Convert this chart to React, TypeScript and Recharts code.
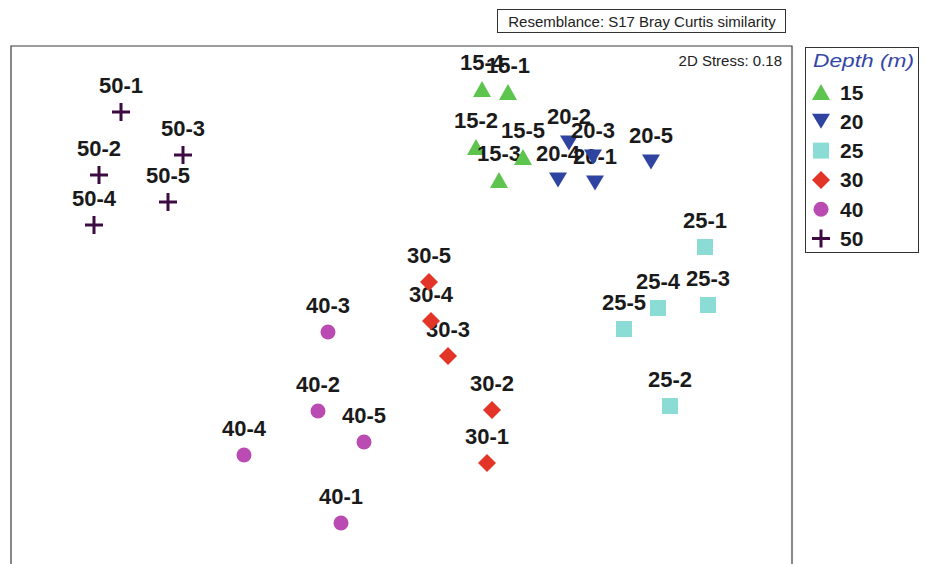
import { Legend, ReferenceArea, Scatter, ScatterChart, XAxis, YAxis } from "recharts";

// nMDS ordination, coordinates (arbitrary units, y up)
const depth15 = [
  { id: "15-1", x: 497, y: 488 },
  { id: "15-2", x: 465, y: 433 },
  { id: "15-3", x: 488, y: 400 },
  { id: "15-4", x: 471, y: 491 },
  { id: "15-5", x: 512, y: 423 },
];
const depth20 = [
  { id: "20-1", x: 584, y: 397 },
  { id: "20-2", x: 558, y: 437 },
  { id: "20-3", x: 582, y: 423 },
  { id: "20-4", x: 547, y: 400 },
  { id: "20-5", x: 640, y: 418 },
];
const depth25 = [
  { id: "25-1", x: 694, y: 333 },
  { id: "25-2", x: 659, y: 174 },
  { id: "25-3", x: 697, y: 275 },
  { id: "25-4", x: 647, y: 272 },
  { id: "25-5", x: 613, y: 251 },
];
const depth30 = [
  { id: "30-1", x: 476, y: 117 },
  { id: "30-2", x: 481, y: 170 },
  { id: "30-3", x: 437, y: 224 },
  { id: "30-4", x: 420, y: 259 },
  { id: "30-5", x: 418, y: 298 },
];
const depth40 = [
  { id: "40-1", x: 330, y: 57 },
  { id: "40-2", x: 307, y: 169 },
  { id: "40-3", x: 317, y: 248 },
  { id: "40-4", x: 233, y: 125 },
  { id: "40-5", x: 353, y: 138 },
];
const depth50 = [
  { id: "50-1", x: 110, y: 468 },
  { id: "50-2", x: 88, y: 405 },
  { id: "50-3", x: 172, y: 425 },
  { id: "50-4", x: 83, y: 355 },
  { id: "50-5", x: 157, y: 378 },
];

const xDomain = [0, 781];
const yDomain = [0, 534];

type Kind = "up" | "down" | "square" | "diamond" | "circle" | "plus";

const series: { name: string; kind: Kind; color: string; data: typeof depth15 }[] = [
  { name: "15", kind: "up", color: "#5dc54d", data: depth15 },
  { name: "20", kind: "down", color: "#2e44a0", data: depth20 },
  { name: "25", kind: "square", color: "#8cdcd6", data: depth25 },
  { name: "30", kind: "diamond", color: "#e23527", data: depth30 },
  { name: "40", kind: "circle", color: "#b94bb3", data: depth40 },
  { name: "50", kind: "plus", color: "#3c0b42", data: depth50 },
];

const FONT = '"Liberation Sans", Arial, Helvetica, sans-serif';

function Marker({ kind, cx, cy, color }: { kind: Kind; cx: number; cy: number; color: string }) {
  switch (kind) {
    case "up":
      return <polygon points={`${cx},${cy - 8} ${cx + 9},${cy + 8} ${cx - 9},${cy + 8}`} fill={color} />;
    case "down":
      return <polygon points={`${cx - 9},${cy - 7.5} ${cx + 9},${cy - 7.5} ${cx},${cy + 7.5}`} fill={color} />;
    case "square":
      return <rect x={cx - 8} y={cy - 8} width={16} height={16} fill={color} />;
    case "diamond":
      return <polygon points={`${cx},${cy - 9} ${cx + 9},${cy} ${cx},${cy + 9} ${cx - 9},${cy}`} fill={color} />;
    case "circle":
      return <circle cx={cx} cy={cy} r={7.5} fill={color} />;
    default:
      return (
        <path d={`M${cx - 9},${cy}H${cx + 9}M${cx},${cy - 9}V${cy + 9}`} stroke={color} strokeWidth={3} fill="none" />
      );
  }
}

const makeShape = (kind: Kind, color: string) => (props: any) => {
  const { cx, cy, payload } = props;
  return (
    <g>
      <Marker kind={kind} cx={cx} cy={cy} color={color} />
      <text
        x={cx}
        y={cy - 19}
        textAnchor="middle"
        fontFamily={FONT}
        fontWeight="bold"
        fontSize={22}
        fill="#1a1a1a"
      >
        {payload.id}
      </text>
    </g>
  );
};

function DepthLegend({ payload }: any) {
  const items = (payload || []).map((p: any) => series.find((s) => s.name === p.value)).filter(Boolean);
  return (
    <div style={{ width: 112, height: 204, border: "1px solid #333", background: "#fff" }}>
      <svg width={112} height={204} style={{ display: "block" }}>
        <text
          x={7}
          y={19}
          fontFamily={FONT}
          fontStyle="italic"
          fontSize={19}
          fill="#3346a8"
          textLength={101}
          lengthAdjust="spacingAndGlyphs"
        >
          Depth (m)
        </text>
        {items.map((s: any, i: number) => {
          const cy = 44 + i * 29.3;
          return (
            <g key={s.name}>
              <Marker kind={s.kind} cx={15} cy={cy} color={s.color} />
              <text x={34} y={cy + 7.5} fontFamily={FONT} fontWeight="bold" fontSize={21} fill="#1a1a1a">
                {s.name}
              </text>
            </g>
          );
        })}
      </svg>
    </div>
  );
}

export default function App() {
  return (
    <div style={{ position: "fixed", left: 0, top: 0, width: 926, height: 564, overflow: "hidden", background: "#fff" }}>
      <ScatterChart width={926} height={600} margin={{ top: 46, right: 134, bottom: 20, left: 11 }}>
        <XAxis type="number" dataKey="x" domain={xDomain} hide />
        <YAxis type="number" dataKey="y" domain={yDomain} hide />
        <ReferenceArea
          x1={xDomain[0]}
          x2={xDomain[1]}
          y1={yDomain[0]}
          y2={yDomain[1]}
          fill="none"
          fillOpacity={0}
          stroke="#3a3a3a"
          strokeWidth={1.2}
          ifOverflow="visible"
        />
        {series.map((s) => (
          <Scatter
            key={s.name}
            name={s.name}
            data={s.data}
            fill={s.color}
            shape={makeShape(s.kind, s.color)}
            isAnimationActive={false}
          />
        ))}
        <Legend
          layout="vertical"
          align="center"
          verticalAlign="middle"
          wrapperStyle={{ left: 805, top: 47, width: 114, height: 206 }}
          content={DepthLegend}
        />
        <rect x={497.5} y={9.5} width={288} height={23} fill="#fff" stroke="#333" />
        <text x={642} y={26.5} textAnchor="middle" fontFamily={FONT} fontSize={15} fill="#222">
          Resemblance: S17 Bray Curtis similarity
        </text>
        <text x={782} y={66} textAnchor="end" fontFamily={FONT} fontSize={15} fill="#222">
          2D Stress: 0.18
        </text>
      </ScatterChart>
    </div>
  );
}
